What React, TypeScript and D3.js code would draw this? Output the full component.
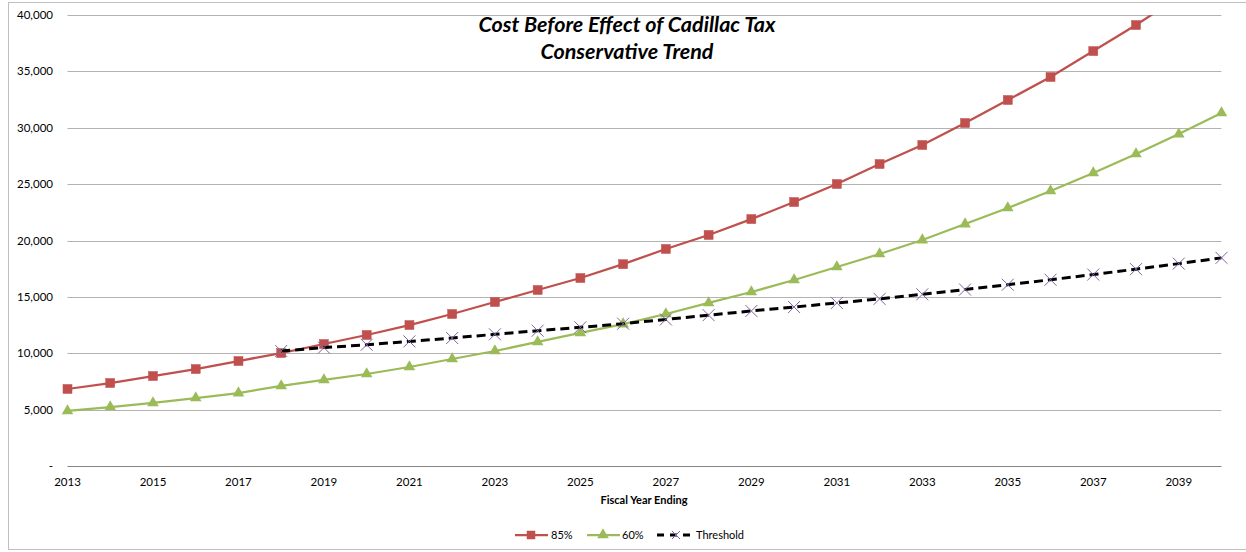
import React from "react";
import * as d3 from "d3";

const years: number[] = d3.range(2013, 2041);
const seriesNames = ["85%", "60%", "Threshold"];
const red85: number[] = [6830, 7360, 7980, 8600, 9310, 10020, 10820, 11620, 12500, 13480, 14545, 15610, 16670, 17900, 19250, 20490, 21900, 23410, 25010, 26780, 28470, 30420, 32460, 34500, 36800, 39110, 41600, 44300];
const green60: number[] = [4880, 5230, 5590, 6030, 6470, 7100, 7630, 8160, 8780, 9490, 10200, 11000, 11800, 12590, 13480, 14460, 15430, 16500, 17650, 18800, 20040, 21460, 22880, 24390, 25990, 27670, 29440, 31310];
const thresholdYears: number[] = d3.range(2018, 2041);
const threshold: number[] = [10200, 10500, 10750, 11050, 11350, 11680, 12000, 12300, 12620, 13000, 13380, 13750, 14100, 14460, 14820, 15230, 15650, 16080, 16520, 16980, 17460, 17950, 18460];
const yTicks: number[] = [0, 5000, 10000, 15000, 20000, 25000, 30000, 35000, 40000];
const xTickYears: number[] = d3.range(2013, 2041, 2);
const titleLines = ["Cost Before Effect of Cadillac Tax", "Conservative Trend"];
const xAxisTitle = "Fiscal Year Ending";

const W = 1246, H = 552;
const left = 67.5, right = 1221.5, top = 15, bottom = 466;
const RED = "#c0504d", GREEN = "#9bbb59", PURPLE = "#8064a2";
const FONT = "Lato, 'Open Sans', sans-serif";

export default function App() {
  const x = d3.scaleLinear().domain([2013, 2040]).range([left, right]);
  const y = d3.scaleLinear().domain([0, 40000]).range([bottom, top]);
  const line = d3.line<[number, number]>().x(d => x(d[0])).y(d => y(d[1]));
  const redPts: [number, number][] = years.map((yr, i) => [yr, red85[i]]);
  const greenPts: [number, number][] = years.map((yr, i) => [yr, green60[i]]);
  const thrPts: [number, number][] = thresholdYears.map((yr, i) => [yr, threshold[i]]);
  const tri = d3.symbol().type(d3.symbolTriangle).size(58)() as string;

  const square = (cx: number, cy: number, key: any, s = 9) => (
    <rect key={key} x={cx - s / 2} y={cy - s / 2} width={s} height={s} fill={RED} stroke={RED} strokeWidth={0.5} />
  );
  const triangle = (cx: number, cy: number, key: any) => (
    <path key={key} d={tri} transform={`translate(${cx},${cy})`} fill={GREEN} />
  );
  const cross = (cx: number, cy: number, key: any, s = 6) => (
    <path key={key} d={`M${cx - s},${cy - s}L${cx + s},${cy + s}M${cx - s},${cy + s}L${cx + s},${cy - s}`} stroke={PURPLE} strokeWidth={1} fill="none" />
  );

  const legendY = 535;
  return (
    <svg width={W} height={H} style={{ position: "absolute", left: 0, top: 0, background: "#fff" }} fontFamily={FONT}>
      <defs>
        <clipPath id="plotclip">
          <rect x={0} y={top} width={W} height={bottom - top + 10} />
        </clipPath>
      </defs>
      <rect x={8.5} y={2.5} width={W} height={547} fill="none" stroke="#bfbfbf" strokeWidth={1} />
      {yTicks.map(t => (
        <g key={t}>
          {t > 0 && <line x1={left} x2={right} y1={Math.round(y(t)) + 0.5} y2={Math.round(y(t)) + 0.5} stroke="#b3b3b3" strokeWidth={1} />}
          <text x={53} y={y(t) + 4} textAnchor="end" fontSize={11.5} fill="#000">
            {t === 0 ? "-" : d3.format(",")(t)}
          </text>
        </g>
      ))}
      <line x1={left} x2={right} y1={bottom + 0.5} y2={bottom + 0.5} stroke="#868686" strokeWidth={1} />
      {xTickYears.map(yr => (
        <text key={yr} x={x(yr)} y={486} textAnchor="middle" fontSize={11.5} fill="#000">{yr}</text>
      ))}
      <text x={644} y={504} textAnchor="middle" fontSize={11} fontWeight="bold">{xAxisTitle}</text>

      <g clipPath="url(#plotclip)">
        <path d={line(redPts) as string} fill="none" stroke={RED} strokeWidth={2.25} />
        {redPts.map((p, i) => square(x(p[0]), y(p[1]), "r" + i))}
        <path d={line(greenPts) as string} fill="none" stroke={GREEN} strokeWidth={2.25} />
        {greenPts.map((p, i) => triangle(x(p[0]), y(p[1]), "g" + i))}
        <path d={line(thrPts) as string} fill="none" stroke="#000" strokeWidth={3} strokeDasharray="9,5" />
        {thrPts.map((p, i) => cross(x(p[0]), y(p[1]), "t" + i))}
      </g>

      {titleLines.map((t, i) => (
        <text key={i} x={627} y={32 + i * 27} textAnchor="middle" fontSize={21.5} fontWeight="bold" fontStyle="italic">{t}</text>
      ))}

      <g fontSize={11}>
        <line x1={515} x2={548} y1={legendY} y2={legendY} stroke={RED} strokeWidth={2.25} />
        {square(531, legendY, "lr", 8)}
        <text x={551} y={legendY + 4}>{seriesNames[0]}</text>
        <line x1={587} x2={620} y1={legendY} y2={legendY} stroke={GREEN} strokeWidth={2.25} />
        {triangle(603, legendY, "lg")}
        <text x={622} y={legendY + 4}>{seriesNames[1]}</text>
        <line x1={657} x2={695} y1={legendY} y2={legendY} stroke="#000" strokeWidth={3} strokeDasharray="7,6" />
        {cross(676, legendY, "lt", 4)}
        <text x={696} y={legendY + 4}>{seriesNames[2]}</text>
      </g>
    </svg>
  );
}
